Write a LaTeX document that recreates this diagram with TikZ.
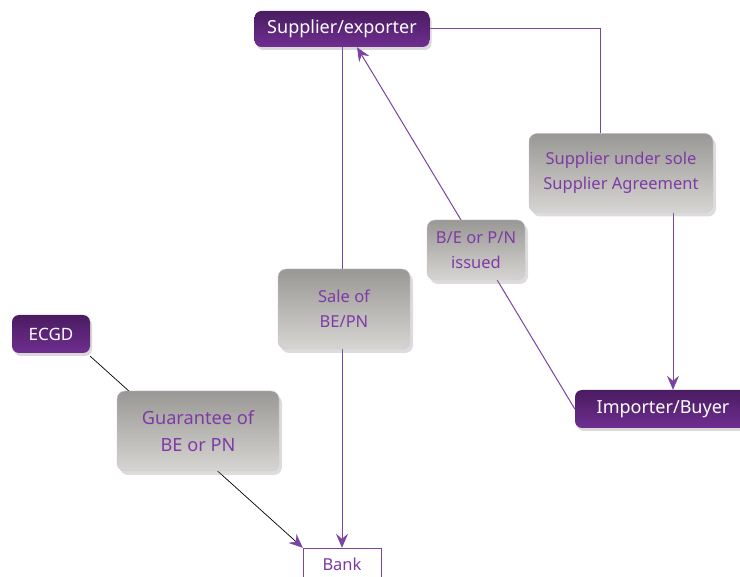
\documentclass[tikz,border=0pt]{standalone}
\usepackage{fontspec}
\setmainfont{Noto Sans}
\usetikzlibrary{arrows.meta,shadows,backgrounds}

\definecolor{plumtop}{HTML}{4A1C61}
\definecolor{plumbot}{HTML}{6F2E90}
\definecolor{plumline}{HTML}{7B44A3}
\definecolor{plumtext}{HTML}{7E3BA6}
\definecolor{greytop}{HTML}{9A9894}
\definecolor{greybot}{HTML}{D7D5D2}

\begin{document}
\begin{tikzpicture}[x=1pt,y=-1pt,
		plumarrow/.style={-{Stealth[length=14pt,width=12pt,inset=5pt,color=plumline]}}]
		\useasboundingbox (0,0) rectangle (740,577);
		% dark boxes
		\begin{scope}[every node/.style={rounded corners=7pt, inner sep=0pt, minimum height=36pt,
				top color=plumtop, bottom color=plumbot, draw=none, text=white,
				font=\fontsize{18}{21}\selectfont,
				drop shadow={shadow xshift=2pt, shadow yshift=-3pt, opacity=0.3}}]
			\node[minimum width=175pt] (sup) at (342,29) {Supplier/exporter};
			\node[minimum width=78pt, minimum height=38pt, font=\fontsize{17}{20}\selectfont] (ecgd) at (51,334) {ECGD};
			\node[minimum width=176pt, minimum height=38pt, text width=176pt, align=center] (imp) at (663,409) {Importer/Buyer};
		\end{scope}
		% grey boxes
		\begin{scope}[every node/.style={rounded corners=8pt, inner sep=0pt, align=center,
				top color=greytop, bottom color=greybot, draw=plumline!35, text=plumtext,
				font=\fontsize{16.5}{25}\selectfont,
				drop shadow={shadow xshift=3pt, shadow yshift=-4pt, opacity=0.28}}]
			\node[minimum width=184pt, minimum height=79pt] (sole) at (621,173) {Supplier under sole\\Supplier Agreement};
			\node[minimum width=98pt, minimum height=60pt] (issued) at (476,250) {B/E or P/N\\issued};
			\node[minimum width=132pt, minimum height=80pt] (sale) at (344,309) {Sale of\\BE/PN};
			\node[minimum width=162pt, minimum height=80pt, font=\fontsize{18.2}{27}\selectfont] (guar) at (198,431) {Guarantee of\\BE or PN};
		\end{scope}
		\node[draw=plumline, fill=white, text=plumtext, minimum width=78pt, minimum height=32pt,
			inner sep=0pt, font=\fontsize{16.5}{19}\selectfont] (bank) at (342,564) {Bank};
		% connectors
		\begin{scope}[on background layer, every path/.style={draw=plumline, line width=1pt}]
			\coordinate (corner) at (600,29);
			\draw (sup.east) -- (corner) -- (corner |- sole.north);
			\draw[plumarrow] ([xshift=52pt]sole.south) -- ([xshift=52pt]sole.south |- imp.north);
			\draw[plumarrow] (imp.west) -- ([xshift=15pt]sup.south);
			\draw[plumarrow] (sup.south) -- (bank.north);
			\draw[plumarrow, draw=black, line width=0.7pt] ([yshift=-3pt]ecgd.south east) -- (bank.north west);
		\end{scope}
	\end{tikzpicture}
\end{document}
